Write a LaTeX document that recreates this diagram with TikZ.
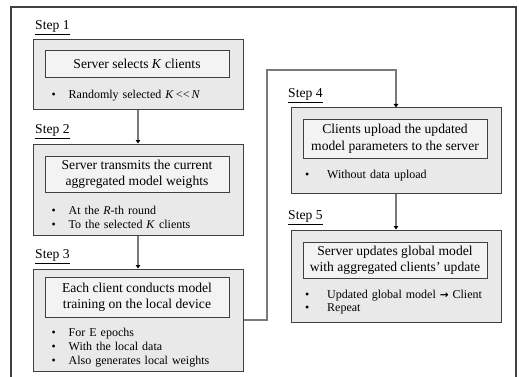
\documentclass[tikz,border=0pt]{standalone}
\usepackage{fontspec}
\setmainfont{Liberation Serif}
\newfontfamily\arrowfont{DejaVu Sans}
\usetikzlibrary{arrows.meta}

\definecolor{outerfill}{HTML}{E9E9E9}
\definecolor{innerfill}{HTML}{F3F3F3}
\definecolor{edge}{HTML}{404040}
\definecolor{wire}{HTML}{7A7A7A}

% bullet in a box of the given width
\newcommand\itemdot[1]{\makebox[#1][l]{\textbullet}}
% bullet text font, with slightly wider word spaces
\newcommand\itemfont{\fontsize{12}{14}\selectfont\spaceskip=4pt plus 1pt\relax}

\begin{document}
\begin{tikzpicture}[x=1pt,y=-1pt,
  stepbox/.style={draw=edge, fill=outerfill, line width=1pt,
    minimum width=210pt, inner sep=0pt},
  titlebox/.style={draw=edge, fill=innerfill, line width=0.9pt,
    minimum width=184pt, inner sep=0pt, align=center,
    font=\fontsize{13.6}{16.5}\selectfont},
  steplabel/.style={anchor=base west, inner sep=0pt,
    font=\fontsize{13.6}{16}\selectfont},
  itemline/.style={anchor=base west, inner sep=0pt, font=\itemfont},
  flow/.style={draw=wire, line width=1.3pt,
    -{Triangle[length=3.5pt,width=4.5pt,color=black]}},
]
\useasboundingbox (0,0) rectangle (519,377);

% outer frame, open at the bottom
\draw[edge, line width=1.5pt] (11,377) -- (11,7) -- (516,7) -- (516,377);

% step panels
\node[stepbox, minimum height=70pt]  (b1) at (138,75) {};
\node[stepbox, minimum height=91pt]  (b2) at (138,189.5) {};
\node[stepbox, minimum height=102pt] (b3) at (138,320) {};
\node[stepbox, minimum height=85pt]  (b4) at (396,150.5) {};
\node[stepbox, minimum height=92pt]  (b5) at (396,276) {};

% step headings
\node[steplabel] (s1) at (35,30)   {\underline{Step 1}};
\node[steplabel] (s2) at (35,134)  {\underline{Step 2}};
\node[steplabel] (s3) at (35,258.5){\underline{Step 3}};
\node[steplabel] (s4) at (288,98)  {\underline{Step 4}};
\node[steplabel] (s5) at (288,219.5){\underline{Step 5}};

% titles
\node[titlebox, minimum height=27pt] (t1) at (137,63.5) {Server selects \textit{K} clients};
\node[titlebox, minimum height=36pt] (t2) at (137,174)
  {Server transmits the current\\aggregated model weights};
\node[titlebox, minimum height=40pt] (t3) at (137,297)
  {Each client conducts model\\training on the local device};
\node[titlebox, minimum height=39pt] (t4) at (395,138.5)
  {Clients upload the updated\\model parameters to the server};
\node[titlebox, minimum height=36pt] (t5) at (395,260)
  {Server updates global model\\with aggregated clients’ update};

% bullet points
\node[itemline] (p11) at (51.5,99)  {\itemdot{17pt}Randomly selected \textit{K}\,<\kern0.2pt<\,\textit{N}};
\node[itemline] (p21) at (51.5,214.5) {\itemdot{17pt}At the \textit{R}-th round};
\node[itemline] (p22) at (51.5,228.5) {\itemdot{17pt}To the selected \textit{K} clients};
\node[itemline] (p31) at (51.5,336.5) {\itemdot{17pt}For E epochs};
\node[itemline] (p32) at (51.5,350.5) {\itemdot{17pt}With the local data};
\node[itemline] (p33) at (51.5,364.5) {\itemdot{17pt}Also generates local weights};
\node[itemline] (p41) at (305,178.5) {\itemdot{22pt}Without data upload};
\node[itemline] (p51) at (305,298.5) {\itemdot{22pt}Updated global model {\arrowfont\bfseries\fontsize{10.5}{12}\selectfont →} Client};
\node[itemline] (p52) at (305,311.5) {\itemdot{22pt}Repeat};

% connectors
\coordinate (turn) at (267,70);
\draw[flow] (b1.south) -- (b2.north);
\draw[flow] (b2.south) -- (b3.north);
\draw[flow] (b3.east) -| (turn) -| (b4.north);
\draw[flow] (b4.south) -- (b5.north);
\end{tikzpicture}
\end{document}
